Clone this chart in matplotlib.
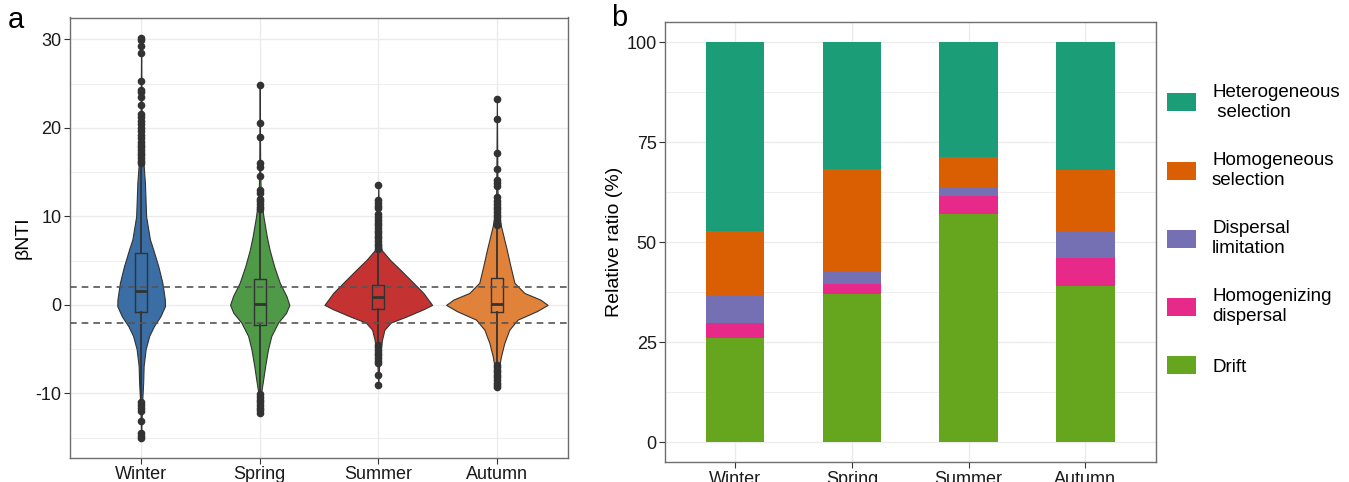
import numpy as np
import matplotlib.pyplot as plt
from matplotlib.patches import Patch

plt.rcParams['font.family'] = ['Liberation Sans', 'DejaVu Sans']
plt.rcParams['axes.unicode_minus'] = False

seasons = ['Winter', 'Spring', 'Summer', 'Autumn']
violin_colors = ['#3a6ea5', '#4e9a47', '#c53232', '#e0823a']

# violin outlines: value and half width (category units)
winter_y = [-15.0, -12.0, -10.6, -8.8, -6.9, -5.0, -3.5, -2.4, -1.3, -0.15, 0.6, 2.5, 4.35, 6.2, 7.4, 10.0, 13.75, 16.0, 18.0, 22.0, 30.2]
winter_hw = [0.0, 0.006, 0.01, 0.017, 0.021, 0.038, 0.068, 0.108, 0.162, 0.201, 0.2, 0.179, 0.145, 0.103, 0.074, 0.042, 0.032, 0.02, 0.01, 0.004, 0.0]
spring_y = [-12.2, -10.5, -9.9, -8.8, -6.9, -5.0, -3.5, -2.0, -0.9, 0.0, 1.0, 2.5, 4.35, 6.2, 7.7, 10.0, 12.2, 15.0, 24.8]
spring_hw = [0.0, 0.006, 0.012, 0.025, 0.046, 0.07, 0.098, 0.155, 0.222, 0.25, 0.225, 0.169, 0.122, 0.084, 0.06, 0.031, 0.01, 0.004, 0.0]
summer_y = [-9.1, -6.5, -5.0, -3.9, -2.8, -2.0, -1.3, -0.5, 0.0, 1.35, 2.5, 4.0, 5.1, 6.2, 8.0, 10.0, 13.5]
summer_hw = [0.0, 0.008, 0.02, 0.032, 0.052, 0.105, 0.239, 0.38, 0.454, 0.38, 0.295, 0.183, 0.098, 0.028, 0.01, 0.005, 0.0]
autumn_y = [-9.3, -7.3, -5.8, -4.3, -2.8, -1.66, -0.7, 0.0, 0.6, 1.35, 2.5, 4.35, 6.2, 8.9, 10.7, 13.0, 23.3]
autumn_hw = [0.0, 0.015, 0.035, 0.063, 0.105, 0.176, 0.338, 0.428, 0.366, 0.232, 0.148, 0.115, 0.084, 0.035, 0.012, 0.005, 0.0]

# box statistics
box_q1 = [-0.79, -2.22, -0.42, -0.83]
box_med = [1.61, 0.07, 0.86, 0.15]
box_q3 = [5.86, 2.93, 2.21, 3.04]
whisker_lo = [-10.6, -9.9, -4.3, -6.6]
whisker_hi = [15.7, 10.5, 6.1, 8.8]

winter_out = [16.0, 16.3, 16.6, 16.9, 17.2, 17.5, 17.8, 18.1, 18.4, 18.8, 19.2, 19.6, 20.0, 20.4,
              20.8, 21.2, 21.6, 22.6, 23.5, 24.0, 24.3, 25.3, 28.5, 29.2, 29.9, 30.2,
              -11.0, -11.3, -11.6, -12.0, -13.1, -14.5, -14.8, -15.0]
spring_out = [10.8, 11.1, 11.4, 11.7, 12.0, 12.6, 13.0, 14.6, 15.6, 16.0, 19.0, 20.5, 24.8,
              -10.1, -10.4, -10.7, -11.0, -11.3, -11.6, -11.9, -12.2]
summer_out = [6.3, 6.6, 6.9, 7.2, 7.5, 7.8, 8.1, 8.4, 8.7, 9.0, 9.3, 9.6, 9.9, 10.3, 10.9, 11.2,
              11.5, 11.9, 13.5, -4.5, -4.8, -5.1, -5.4, -5.7, -6.0, -6.3, -6.6, -7.9, -9.1]
autumn_out = [9.0, 9.3, 9.6, 9.9, 10.2, 10.5, 10.8, 11.1, 11.4, 11.7, 12.2, 13.4, 13.8, 14.1,
              15.4, 17.1, 21.0, 23.3, -6.8, -7.0, -7.3, -7.6, -7.9, -8.2, -8.5, -8.8, -9.1, -9.3]

# panel b: relative ratio (%) of each process
processes = ['Heterogeneous\n selection', 'Homogeneous\nselection', 'Dispersal\nlimitation',
             'Homogenizing\ndispersal', 'Drift']
process_colors = ['#1b9e77', '#d95f02', '#7570b3', '#e7298a', '#66a61e']
heterogeneous = [47.2, 31.7, 28.6, 32.0]
homogeneous = [16.1, 25.5, 7.8, 15.2]
dispersal_lim = [6.9, 3.3, 2.0, 6.6]
homogenizing = [3.8, 2.4, 4.6, 7.1]
drift = [26.0, 37.1, 57.0, 39.1]

W, H = 1349, 482
fig = plt.figure(figsize=(W / 100, H / 100), dpi=100)
ax1 = fig.add_axes([70 / W, 1 - 457.7 / H, 498 / W, 440.2 / H])
ax2 = fig.add_axes([665 / W, 1 - 462.3 / H, 490.5 / W, 440 / H])

grid_col = '#ebebeb'
for ax in (ax1, ax2):
    ax.set_facecolor('white')
    ax.set_axisbelow(True)
    ax.grid(True, which='major', color=grid_col, lw=1.0)
    ax.grid(True, which='minor', axis='y', color=grid_col, lw=0.6)
    for s in ax.spines.values():
        s.set_color('#6e6e6e')
        s.set_linewidth(1.0)
    ax.tick_params(axis='both', which='major', length=4, width=0.8, color='#333333',
                   labelsize=13, labelcolor='#1a1a1a', pad=2)
    ax.tick_params(axis='both', which='minor', length=0)
    ax.set_xticks(range(len(seasons)))
    ax.set_xticklabels(seasons)
    ax.set_xlim(-0.6, 3.6)

# ---- panel a: violins + boxplots
outlines = [(winter_y, winter_hw), (spring_y, spring_hw), (summer_y, summer_hw), (autumn_y, autumn_hw)]
for i, (ys, hws) in enumerate(outlines):
    ys = np.array(ys)
    hws = np.array(hws)
    ax1.fill_betweenx(ys, i - hws, i + hws, facecolor=violin_colors[i],
                      edgecolor='#333333', lw=0.8, zorder=2)

fliers = [winter_out, spring_out, summer_out, autumn_out]
stats = []
for i in range(len(seasons)):
    stats.append(dict(q1=box_q1[i], med=box_med[i], q3=box_q3[i],
                      whislo=whisker_lo[i], whishi=whisker_hi[i], fliers=fliers[i]))
ax1.bxp(stats, positions=range(len(seasons)), widths=0.1, showcaps=False,
        manage_ticks=False, zorder=3,
        boxprops=dict(color='#333333', lw=1.0),
        medianprops=dict(color='#333333', lw=2.0),
        whiskerprops=dict(color='#333333', lw=1.3),
        flierprops=dict(marker='o', mfc='#333333', mec='#333333', ms=4.5))

for yv in (2, -2):
    ax1.axhline(yv, ls=(0, (4, 3)), color='#555555', lw=1.2, zorder=4)

ax1.set_ylim(-17.26, 32.46)
ax1.set_yticks([-10, 0, 10, 20, 30])
ax1.set_yticks([-15, -5, 5, 15, 25], minor=True)
ax1.set_ylabel('βNTI', fontsize=14)
ax1.yaxis.set_label_coords((32 - 70) / 498, 0.5)

# ---- panel b: stacked bars
x = np.arange(len(seasons))
stack = [drift, homogenizing, dispersal_lim, homogeneous, heterogeneous]
stack_colors = process_colors[::-1]
bottom = np.zeros(len(seasons))
for vals, col in zip(stack, stack_colors):
    ax2.bar(x, vals, 0.5, bottom=bottom, color=col, lw=0, zorder=2)
    bottom += np.array(vals)

ax2.set_ylim(-5, 105)
ax2.set_yticks([0, 25, 50, 75, 100])
ax2.set_yticks([12.5, 37.5, 62.5, 87.5], minor=True)
ax2.set_ylabel('Relative ratio (%)', fontsize=14)
ax2.yaxis.set_label_coords((623 - 665) / 490.5, 0.5)

handles = [Patch(facecolor=c, edgecolor='none') for c in process_colors]
fig.legend(handles, processes, loc='upper left', bbox_to_anchor=(1167 / W, 1 - 84 / H),
           frameon=False, fontsize=13.5, handlelength=1.55, handleheight=1.1,
           handletextpad=0.85, labelspacing=1.68, borderpad=0, borderaxespad=0)

fig.text(16 / W, 1 - 20 / H, 'a', fontsize=21, ha='center', va='center')
fig.text(619 / W, 1 - 18 / H, 'b', fontsize=21, ha='center', va='center')

fig.savefig('out.png', dpi=100)
